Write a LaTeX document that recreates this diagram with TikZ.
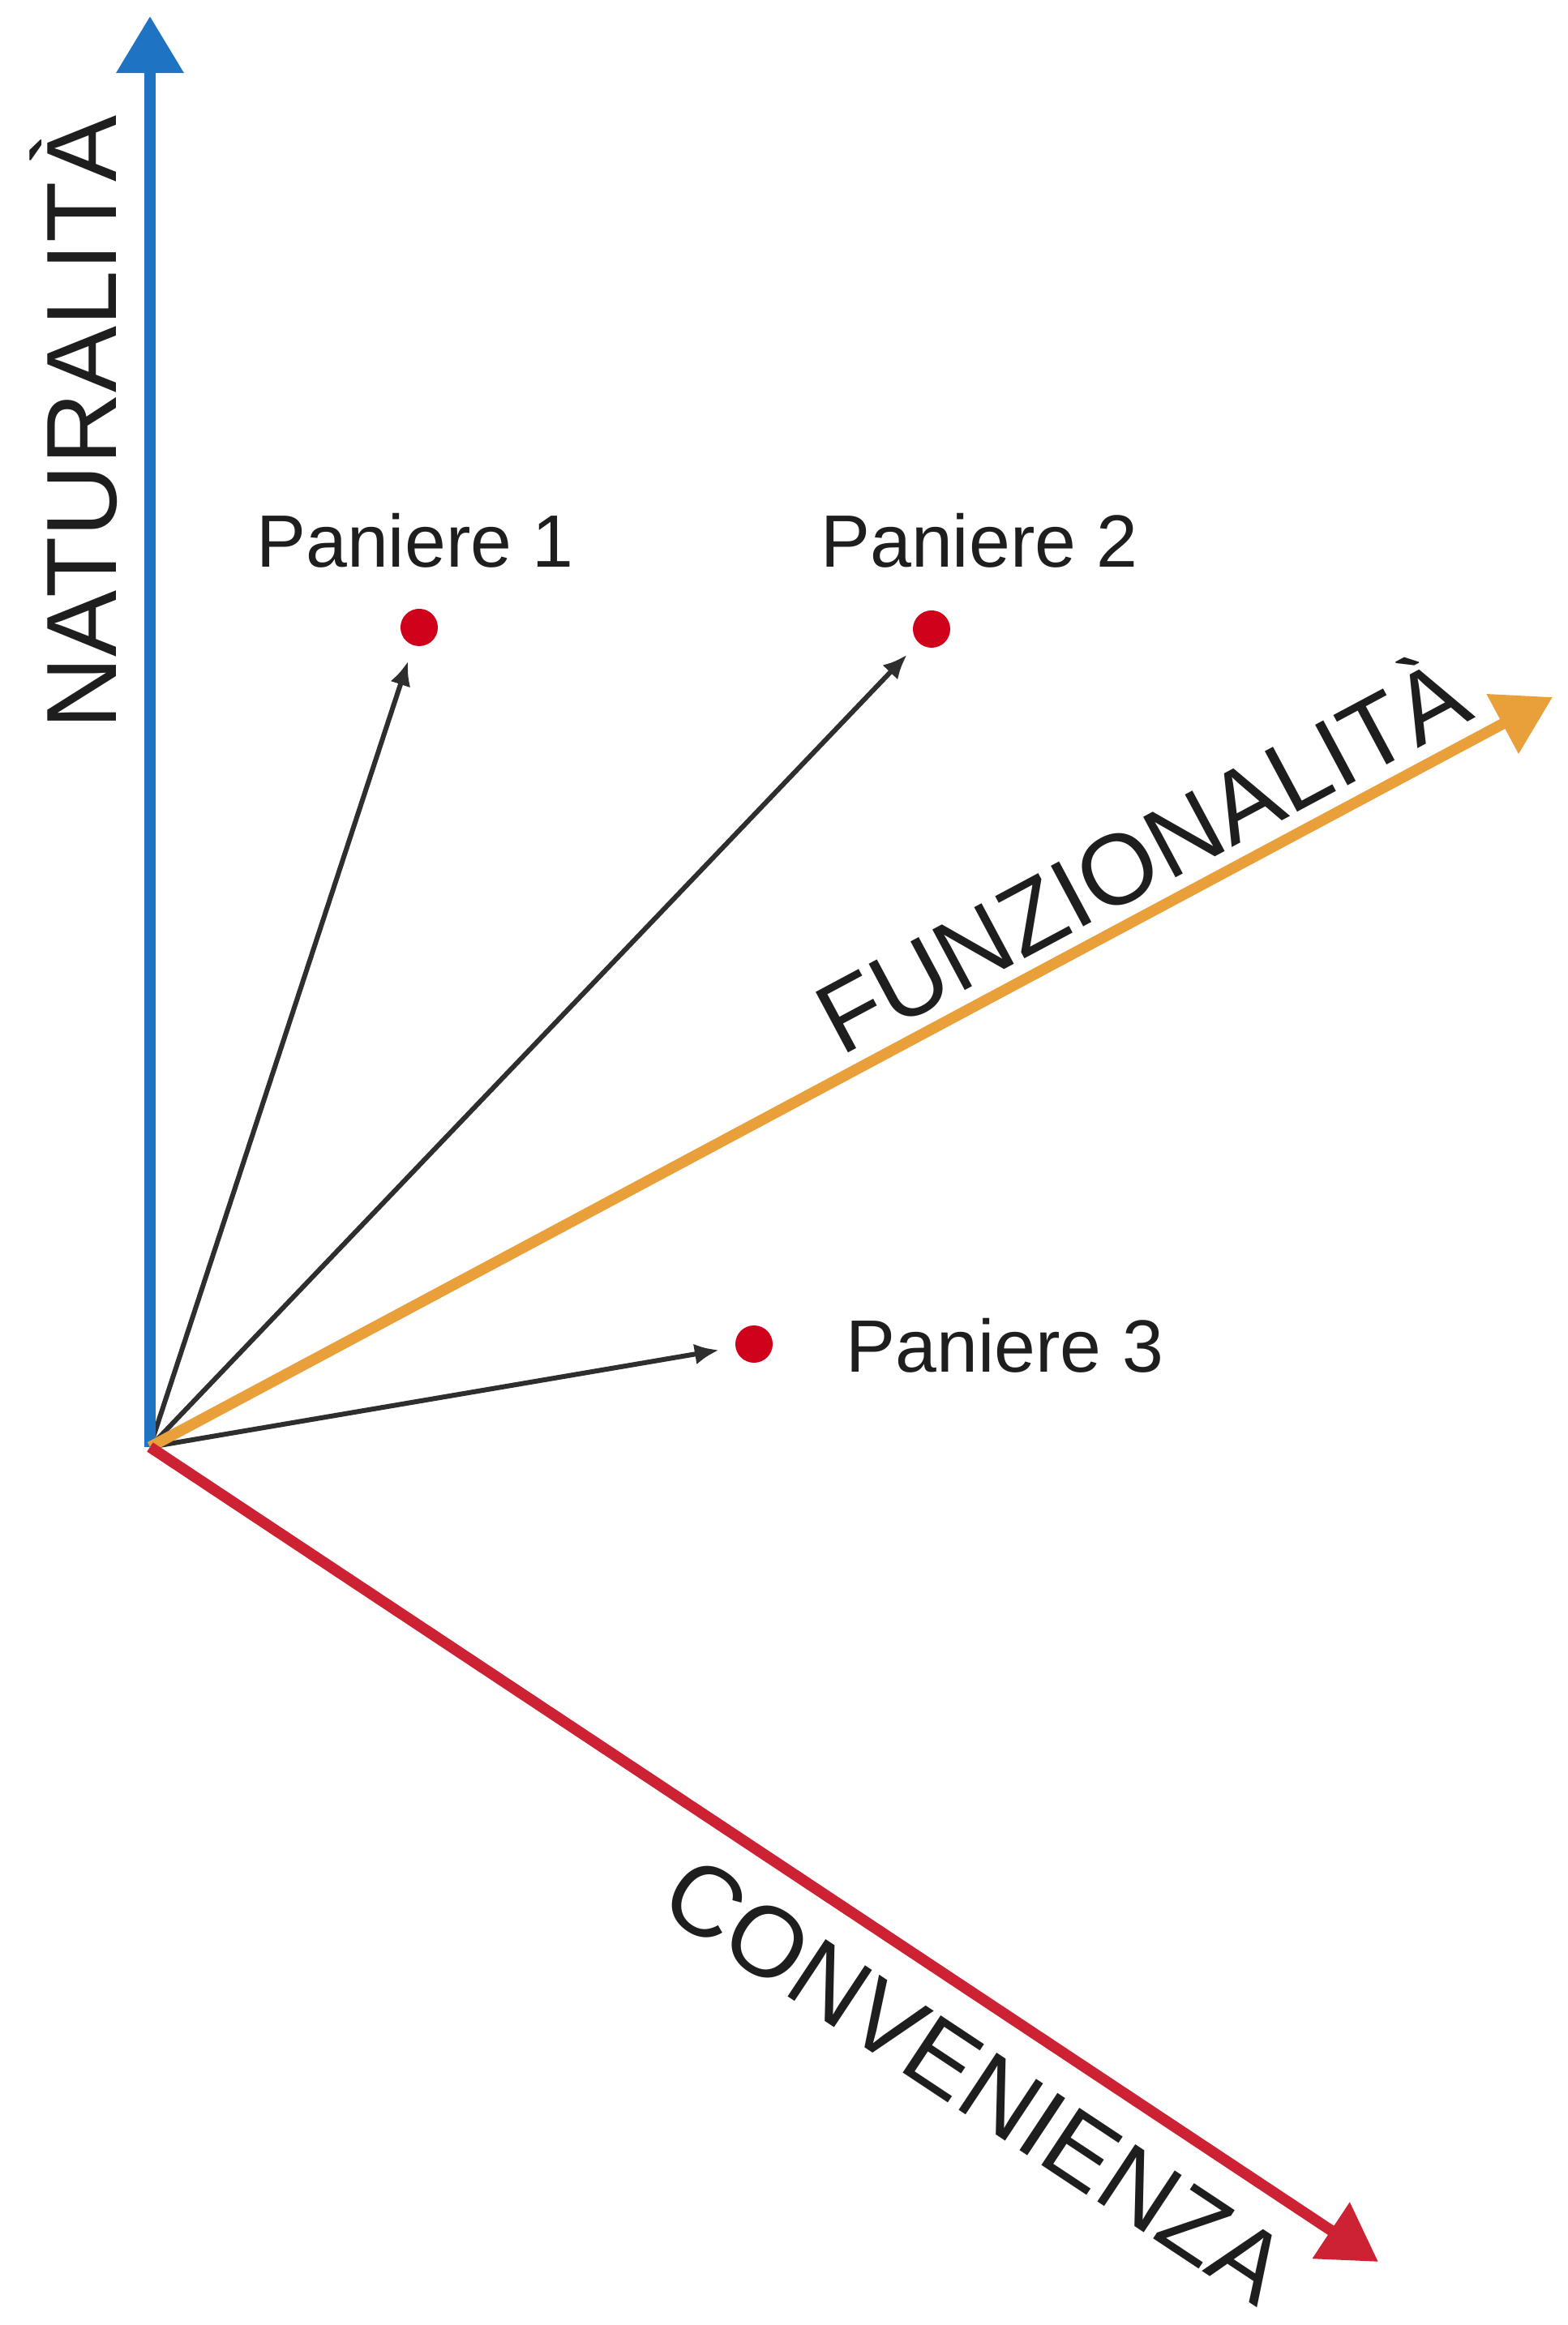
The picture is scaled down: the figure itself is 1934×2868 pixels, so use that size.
\documentclass[tikz,border=0pt]{standalone}
\usepackage{fontspec}
\setmainfont{Liberation Sans}
\usetikzlibrary{arrows.meta}
\definecolor{axblue}{HTML}{1E73C2}
\definecolor{axorange}{HTML}{E9A03A}
\definecolor{axred}{HTML}{CC2233}
\definecolor{dotred}{HTML}{D0021B}
\definecolor{txt}{HTML}{1E1E1E}
\begin{document}
\begin{tikzpicture}[x=0.01cm,y=0.01cm,
  axis/.style={line width=0.135cm, -{Triangle[length=0.7cm,width=0.8cm]}},
  vec/.style={line width=0.06cm, draw=black!82, -{Latex[length=0.3cm,width=0.26cm]}, shorten >=0.2cm},
  pdot/.style={circle, fill=dotred, inner sep=0pt, minimum size=0.46cm},
  axlabel/.style={font=\fontsize{35}{40}\selectfont, text=txt, inner sep=0pt},
  plabel/.style={font=\fontsize{26}{30}\selectfont, text=txt, inner sep=0pt}]
\useasboundingbox (0,0) rectangle (1934,2868);
\coordinate (O) at (185,1083);
\coordinate (N) at (185,2848);
\coordinate (F) at (1915,2008);
\coordinate (C) at (1700,78);
\node[pdot] (d1) at (517,2094) {};
\node[pdot] (d2) at (1149,2092) {};
\node[pdot] (d3) at (930,1210) {};
\draw[vec] (O) -- (d1);
\draw[vec] (O) -- (d2);
\draw[vec] (O) -- (d3);
\draw[axis, axblue] (O) -- (N);
\draw[axis, axorange] (O) -- (F);
\draw[axis, axred] (O) -- (C);
\node[axlabel, rotate=90, anchor=base] (nl) at (143,2347) {NATURALITÀ};
\node[axlabel, rotate=28.13, anchor=base] (fl) at (1429,1774) {FUNZIONALITÀ};
\node[axlabel, rotate=-33.55, anchor=base] (cl) at (1180,267) {CONVENIENZA};
\node[plabel, anchor=base] (p1) at (512,2168) {Paniere 1};
\node[plabel, anchor=base] (p2) at (1208,2168) {Paniere 2};
\node[plabel, anchor=base west] (p3) at (1043,1175) {Paniere 3};
\end{tikzpicture}
\end{document}
